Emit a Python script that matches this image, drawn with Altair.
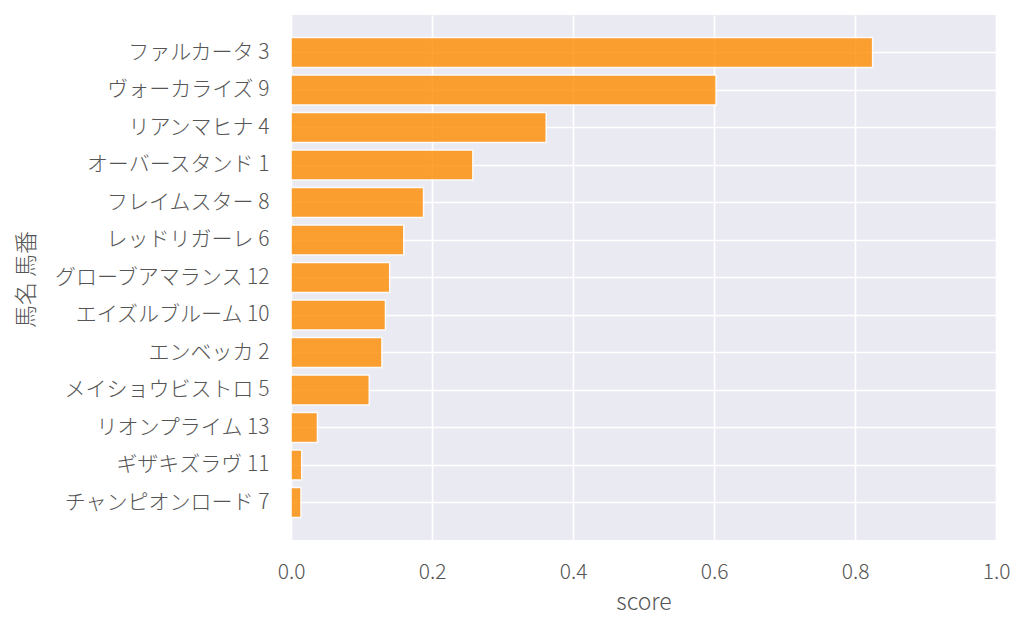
import altair as alt
import pandas as pd

horses = ["ファルカータ 3", "ヴォーカライズ 9", "リアンマヒナ 4", "オーバースタンド 1",
          "フレイムスター 8", "レッドリガーレ 6", "グローブアマランス 12", "エイズルブルーム 10",
          "エンベッカ 2", "メイショウビストロ 5", "リオンプライム 13", "ギザキズラヴ 11",
          "チャンピオンロード 7"]
scores = [0.825, 0.603, 0.362, 0.258, 0.188, 0.160, 0.140, 0.134, 0.129, 0.111,
          0.0375, 0.0152, 0.0142]
x_ticks = [0.0, 0.2, 0.4, 0.6, 0.8, 1.0]

df = pd.DataFrame({"馬名 馬番": horses, "score": scores})

FONT = "Noto Sans CJK JP"
TXT = "#555555"

chart = alt.Chart(df).mark_bar(
    color="darkorange", opacity=0.8, stroke="white", strokeWidth=1.5
).encode(
    x=alt.X("score:Q",
            scale=alt.Scale(domain=[0, 1], nice=False, zero=True),
            axis=alt.Axis(values=x_ticks, format=".1f", title="score",
                          labelFlush=False,
                          titleY=69, titleBaseline="alphabetic",
                          labelPadding=21)),
    y=alt.Y("馬名 馬番:N", sort=horses,
            scale=alt.Scale(paddingInner=0.2, paddingOuter=0.6),
            axis=alt.Axis(title="馬名 馬番", labelPadding=22, bandPosition=0.5,
                          labelLimit=400,
                          titleAngle=-90, titleX=-265, titleY=264,
                          titleAlign="center", titleBaseline="middle")),
).properties(
    width=705, height=525,
    autosize=alt.AutoSizeParams(type="none"),
    padding={"left": 283, "top": 7, "right": 20, "bottom": 90},
).configure_view(
    fill="#eaeaf2", stroke=None
).configure_axis(
    grid=True, gridColor="white", gridWidth=1.6, gridOpacity=1,
    domain=False, ticks=False, tickSize=0,
    labelFont=FONT, labelFontSize=21, labelColor=TXT, labelFontWeight=300,
    titleFont=FONT, titleFontSize=23, titleColor=TXT, titleFontWeight=300,
)

chart.save("out.html", embed_options={"renderer": "svg", "actions": False})
